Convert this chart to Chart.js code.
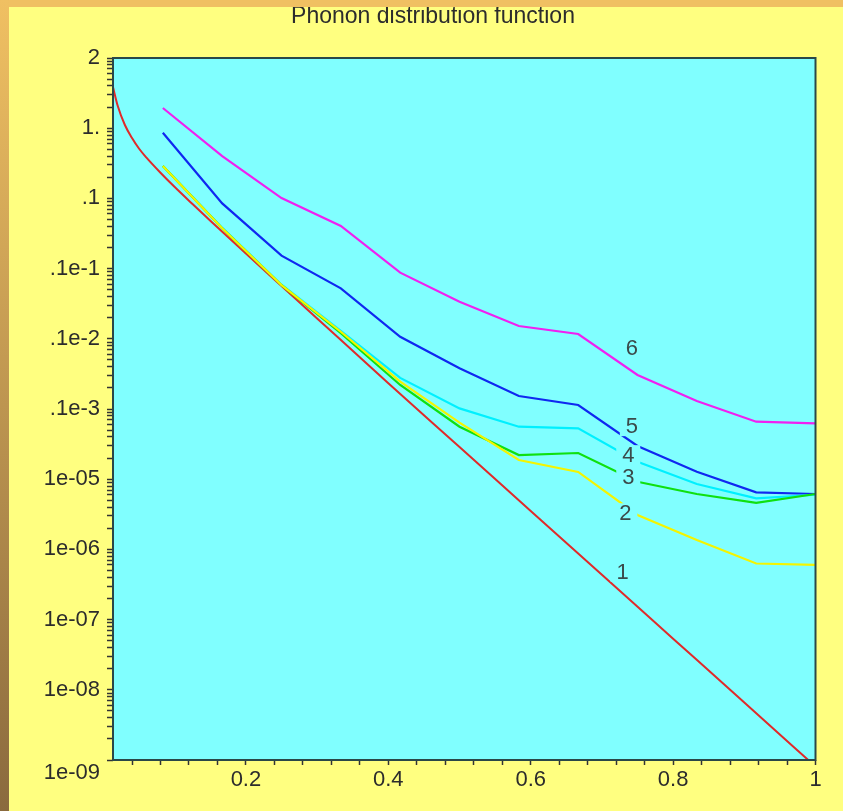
<!DOCTYPE html>
<html>
<head>
<meta charset="utf-8">
<script src="https://cdn.jsdelivr.net/npm/chart.js@4.4.1/dist/chart.umd.min.js"></script>
<style>
  html, body { margin: 0; padding: 0; background: #ffff80; }
  canvas { display: block; }
</style>
</head>
<body>
<canvas id="c" width="843" height="811"></canvas>
<script>
// ---------- data ----------
const chartTitle = 'Phonon distribution function';

// sample abscissae of curves 2..6 (k/12)
const xGrid = [0.0833, 0.1667, 0.25, 0.3333, 0.4167, 0.5, 0.5833, 0.6667, 0.75, 0.8333, 0.9167, 1.0];

const curve6 = [1.94, 0.40, 0.101, 0.0405, 0.00875, 0.00338, 0.00152, 0.00117, 3.05e-4, 1.30e-4, 6.6e-5, 6.25e-5];
const curve5 = [0.863, 0.085, 0.0153, 0.00524, 0.00107, 3.8e-4, 1.53e-4, 1.14e-4, 2.97e-5, 1.28e-5, 6.5e-6, 6.15e-6];
const curve4 = [0.29, 0.038, 0.0059, 1.3e-3, 2.77e-4, 1.02e-4, 5.6e-5, 5.3e-5, 1.77e-5, 8.55e-6, 5.35e-6, 6.0e-6];
const curve3 = [0.29, 0.0375, 0.0058, 1.2e-3, 2.2e-4, 5.6e-5, 2.21e-5, 2.36e-5, 9.2e-6, 6.15e-6, 4.6e-6, 6.15e-6];
const curve2 = [0.29, 0.0375, 0.00583, 1.26e-3, 2.45e-4, 6.4e-5, 1.88e-5, 1.27e-5, 3.09e-6, 1.36e-6, 6.3e-7, 6.0e-7];

// curve 1 (equilibrium) sampled separately
const xCurve1 = [0.0129, 0.02, 0.03, 0.04, 0.05, 0.06, 0.08, 0.1, 0.125, 0.15, 0.2, 0.25, 0.3, 0.4, 0.5, 0.6, 0.7, 0.8, 0.9, 1.0];
const curve1  = [3.99, 2.07, 1.11, 0.725, 0.51, 0.384, 0.232, 0.145, 0.0830, 0.0480, 0.01637, 5.65e-3, 1.95e-3, 2.33e-4, 2.87e-5, 3.52e-6, 4.35e-7, 5.35e-8, 6.58e-9, 8.07e-10];

// curve labels and their anchor points (data coordinates)
const curveLabels = ['1', '2', '3', '4', '5', '6'];
const curveLabelX = [0.729, 0.733, 0.737, 0.737, 0.742, 0.742];
const curveLabelY = [4.8e-7, 3.27e-6, 1.06e-5, 2.2e-5, 5.7e-5, 7.3e-4];

// axis ticks
const xTickValues = [0.2, 0.4, 0.6, 0.8, 1];
const xTickLabels = ['0.2', '0.4', '0.6', '0.8', '1'];
const yTickValues = [10, 1, 0.1, 0.01, 1e-3, 1e-4, 1e-5, 1e-6, 1e-7, 1e-8, 1e-9];
const yTickLabels = ['2', '1.', '.1', '.1e-1', '.1e-2', '.1e-3', '1e-05', '1e-06', '1e-07', '1e-08', '1e-09'];

// ---------- styling ----------
const BG_YELLOW = '#ffff80';
const PLOT_CYAN = '#80ffff';
const FONT = '"Liberation Sans", Arial, Helvetica, sans-serif';

function pts(xs, ys) { return xs.map((x, i) => ({ x: x, y: ys[i] })); }

const backgroundPlugin = {
  id: 'bg',
  beforeDraw(chart) {
    const ctx = chart.ctx, a = chart.chartArea;
    ctx.save();
    ctx.fillStyle = BG_YELLOW;
    ctx.fillRect(0, 0, chart.width, chart.height);
    ctx.fillStyle = PLOT_CYAN;
    ctx.fillRect(a.left, a.top, a.right - a.left, a.bottom - a.top);
    // title
    ctx.fillStyle = '#2c2c2c';
    ctx.font = '23px ' + FONT;
    ctx.textAlign = 'center';
    ctx.textBaseline = 'alphabetic';
    ctx.fillText(chartTitle, 433, 23);
    ctx.restore();
  },
  afterDatasetsDraw(chart) {
    const ctx = chart.ctx, a = chart.chartArea;
    const xs = chart.scales.x, ys = chart.scales.y;
    ctx.save();
    // frame
    ctx.strokeStyle = '#2a4848';
    ctx.lineWidth = 2;
    ctx.strokeRect(a.left, a.top, a.right - a.left, a.bottom - a.top);
    // curve labels
    ctx.font = '22px ' + FONT;
    ctx.textAlign = 'center';
    ctx.textBaseline = 'middle';
    curveLabels.forEach((t, i) => {
      const px = xs.getPixelForValue(curveLabelX[i]);
      const py = ys.getPixelForValue(curveLabelY[i]);
      ctx.fillStyle = PLOT_CYAN;
      ctx.fillRect(px - 12, py - 10, 24, 20);
      ctx.fillStyle = '#3a4a4a';
      ctx.fillText(t, px, py + 1);
    });
    ctx.restore();
  },
  afterDraw(chart) {
    const ctx = chart.ctx;
    ctx.save();
    ctx.fillStyle = '#f0c062';
    ctx.fillRect(0, 0, chart.width, 7);
    const g = ctx.createLinearGradient(0, 0, 0, chart.height);
    g.addColorStop(0, '#f0c062');
    g.addColorStop(1, '#8a6a3e');
    ctx.fillStyle = g;
    ctx.fillRect(0, 0, 9, chart.height);
    ctx.restore();
  }
};

function lineDs(label, data, color, width, smooth) {
  return {
    label: label,
    data: data,
    borderColor: color,
    backgroundColor: color,
    borderWidth: width,
    pointRadius: 0,
    fill: false,
    tension: 0,
    cubicInterpolationMode: smooth ? 'monotone' : 'default',
    clip: 0
  };
}

new Chart(document.getElementById('c'), {
  type: 'line',
  data: {
    datasets: [
      lineDs('2', pts(xGrid, curve2), '#f4f400', 2.2, false),
      lineDs('3', pts(xGrid, curve3), '#10e010', 2.2, false),
      lineDs('4', pts(xGrid, curve4), '#00f0ff', 2.2, false),
      lineDs('5', pts(xGrid, curve5), '#1028f0', 2.2, false),
      lineDs('6', pts(xGrid, curve6), '#f020f0', 2.2, false),
      lineDs('1', pts(xCurve1, curve1), '#e02a2a', 2, true)
    ]
  },
  options: {
    responsive: false,
    devicePixelRatio: 1,
    animation: false,
    events: [],
    layout: { padding: { top: 58, right: 27.5, left: 0, bottom: 0 } },
    plugins: {
      legend: { display: false },
      title: { display: false },
      tooltip: { enabled: false }
    },
    scales: {
      x: {
        type: 'linear',
        min: 0.0133,
        max: 1,
        border: { display: false },
        grid: { drawOnChartArea: false, drawTicks: true, tickLength: 5, tickColor: '#333', tickWidth: 1.5 },
        afterBuildTicks(scale) {
          const t = [];
          for (let k = 1; k <= 25; k++) {
            const v = Math.round(k * 4) / 100;
            const j = xTickValues.findIndex(q => Math.abs(q - v) < 1e-9);
            t.push({ value: v, lbl: j >= 0 ? xTickLabels[j] : '' });
          }
          scale.ticks = t;
        },
        afterFit(scale) { scale.height = 51; },
        ticks: {
          autoSkip: false,
          maxRotation: 0,
          padding: 2,
          color: '#2c2c2c',
          font: { family: FONT, size: 22 },
          callback(value, index, ticks) { return ticks[index].lbl; }
        }
      },
      y: {
        type: 'logarithmic',
        min: 1e-9,
        max: 10,
        border: { display: false },
        grid: { drawOnChartArea: false, drawTicks: true, tickLength: 6, tickColor: '#333', tickWidth: 1.5 },
        afterBuildTicks(scale) {
          const t = [];
          for (let d = -9; d <= 0; d++) {
            for (let m = 1; m <= 9; m++) {
              const v = m * Math.pow(10, d);
              let lbl = '';
              if (m === 1) {
                const j = yTickValues.findIndex(q => Math.abs(Math.log10(q) - d) < 1e-9);
                lbl = j >= 0 ? yTickLabels[j] : '';
                if (d === -9) lbl = ['', lbl];
              }
              t.push({ value: v, lbl: lbl });
            }
          }
          t.push({ value: 10, lbl: yTickLabels[0] });
          scale.ticks = t;
        },
        afterFit(scale) { scale.width = 113; },
        ticks: {
          autoSkip: false,
          padding: 7,
          color: '#2c2c2c',
          font: { family: FONT, size: 22 },
          callback(value, index, ticks) { return ticks[index].lbl; }
        }
      }
    }
  },
  plugins: [backgroundPlugin]
});
</script>
</body>
</html>
